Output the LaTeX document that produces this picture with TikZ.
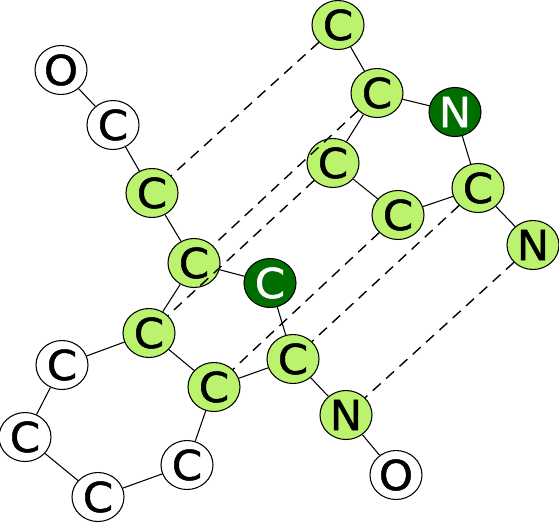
\documentclass[tikz,border=0pt]{standalone}
\usepackage{fontspec}
\setmainfont[FakeBold=1.2,FakeStretch=1.05]{DejaVu Sans}
\usepackage{tikz}
\usetikzlibrary{shapes.geometric}
\definecolor{atomlight}{HTML}{BBF36F}
\definecolor{atomdark}{HTML}{006F00}
\tikzset{
	atom/.style={ellipse,draw=black,line width=0.8pt,inner sep=0pt,minimum width=39pt,minimum height=36.75pt,font=\fontsize{31}{31}\selectfont},
	plainatom/.style={atom,fill=white,text=black},
	lightatom/.style={atom,fill=atomlight,text=black},
	darkatom/.style={atom,fill=atomdark,text=white},
	bond/.style={line width=0.8pt},
	hbond/.style={line width=1.05pt,dash pattern=on 8pt off 5.5pt}
}
\begin{document}
\begin{tikzpicture}[x=0.75pt,y=-0.75pt]
	\useasboundingbox (0,0) rectangle (559,526);

	% first chain
	\node[plainatom] (o1) at (61,70) {O};
	\node[plainatom] (c1) at (113,125) {C};
	\node[lightatom] (c2) at (152,193) {C};
	\node[lightatom] (c3) at (194,263) {C};
	\node[darkatom] (c4) at (270,283) {C};
	\node[lightatom] (c5) at (149,333) {C};
	\node[lightatom] (c6) at (293,359) {C};
	\node[lightatom] (c7) at (214,387) {C};
	\node[lightatom] (n1) at (346,415) {N};
	\node[plainatom] (o2) at (396,475) {O};

	% ring
	\node[plainatom] (r1) at (62,365) {C};
	\node[plainatom] (r2) at (25,437) {C};
	\node[plainatom] (r3) at (98,497) {C};
	\node[plainatom] (r4) at (187,465) {C};

	% second chain
	\node[lightatom] (d1) at (338,25) {C};
	\node[lightatom] (d2) at (377,93) {C};
	\node[darkatom] (d3) at (455,112) {N};
	\node[lightatom] (d4) at (333,163) {C};
	\node[lightatom] (d5) at (478,188) {C};
	\node[lightatom] (d6) at (398,215) {C};
	\node[lightatom] (d7) at (533,245) {N};

	\draw[bond] (o1) -- (c1) -- (c2) -- (c3) -- (c4) -- (c6) -- (c7) -- (c5) -- (c3);
	\draw[bond] (c5) -- (r1) -- (r2) -- (r3) -- (r4) -- (c7);
	\draw[bond] (c6) -- (n1) -- (o2);
	\draw[bond] (d1) -- (d2) -- (d3) -- (d5) -- (d6) -- (d4) -- (d2);
	\draw[bond] (d5) -- (d7);

	% between the chains
	\draw[hbond] (d1) -- (c2);
	\draw[hbond] (d2) -- (c3);
	\draw[hbond] (d4) -- (c5);
	\draw[hbond] (d6) -- (c7);
	\draw[hbond] (d5) -- (c6);
	\draw[hbond] (d7) -- (n1);
\end{tikzpicture}
\end{document}
